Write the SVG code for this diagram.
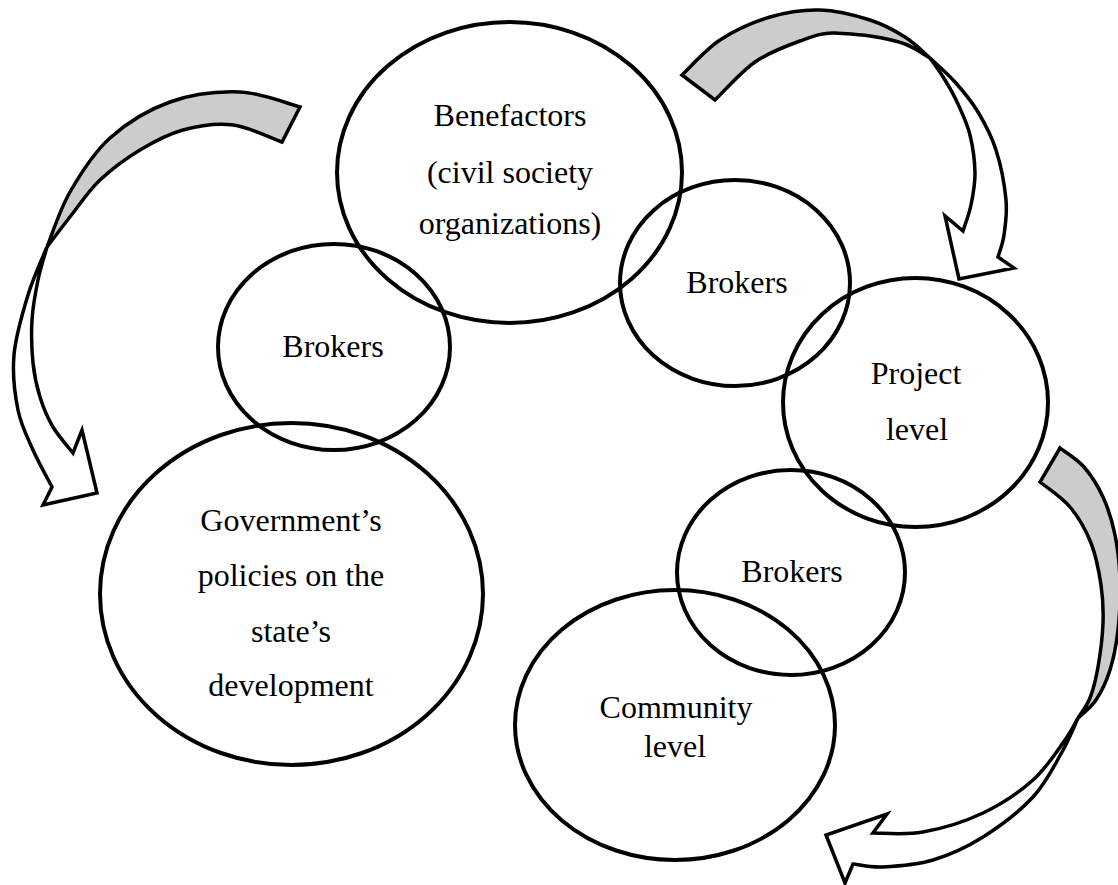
<svg xmlns="http://www.w3.org/2000/svg" width="1118" height="885" viewBox="0 0 1118 885">
  <style>
    .node { fill: none; stroke: #000; stroke-width: 4; }
    .label { font-family: "Liberation Serif", "Times New Roman", serif; font-size: 32px; fill: #000; text-anchor: middle; }
    .back { fill: #cccccc; stroke: #000; stroke-width: 3.5; stroke-linejoin: miter; }
    .front { fill: #ffffff; stroke: #000; stroke-width: 3.5; stroke-linejoin: miter; }
  </style>
  <rect x="0" y="0" width="1118" height="885" fill="#ffffff"/>

  <!-- curved ribbon arrows -->
  <g id="connectors">
    <!-- from benefactors round the left side down to government -->
    <g id="arrow-left">
      <path class="back" d="M300,107 C290,104.5 261.7,92.8 240,92 C218.3,91.2 191.7,94.3 170,102 C148.3,109.7 126.7,123 110,138 C93.3,153 80.5,173.8 70,192 C59.5,210.2 50.8,237.8 47,247 C51.3,241.3 64.2,224.2 73,213 C81.8,201.8 88.8,190.5 100,180 C111.2,169.5 126.2,158.3 140,150 C153.8,141.7 167.5,134.2 183,130 C198.5,125.8 216.5,123 233,125 C249.5,127 273.8,139.2 282,142 Z"/>
      <path class="front" d="M47,247 C43.8,255 33.5,277 28,295 C22.5,313 15.7,335.8 14,355 C12.3,374.2 14.8,394.2 18,410 C21.2,425.8 27.3,437.2 33,450 C38.7,462.8 48.8,480.8 52,487 L43,505 L97,493 L82,430 L73,453 C69.7,448.7 58.5,436.3 53,427 C47.5,417.7 43.3,407.7 40,397 C36.7,386.3 34.3,375.8 33,363 C31.7,350.2 31.2,333.8 32,320 C32.8,306.2 35.5,292.2 38,280 C40.5,267.8 45.5,252.5 47,247 Z"/>
    </g>
    <!-- over the top right, down to the project level -->
    <g id="arrow-top-right">
      <path class="back" d="M682,75 C688.3,69.2 705.3,49.7 720,40 C734.7,30.3 753.3,22 770,17 C786.7,12 803.3,9.5 820,10 C836.7,10.5 855.8,15.5 870,20 C884.2,24.5 895,30.7 905,37 C915,43.3 925.8,54.5 930,58 C925.8,55.7 915,47.7 905,44 C895,40.3 881.7,37.8 870,36 C858.3,34.2 846.7,33.8 835,33 C823.3,32.2 813.3,36.2 800,41 C786.7,45.8 769.2,52.2 755,62 C740.8,71.8 721.7,93.7 715,100 Z"/>
      <path class="front" d="M930,58 C934.2,62 947,73 955,82 C963,91 971.2,100.7 978,112 C984.8,123.3 991.3,135.3 996,150 C1000.7,164.7 1004.7,185.8 1006,200 C1007.3,214.2 1005.3,225.5 1004,235 C1002.7,244.5 999,253.3 998,257 L1014,268 L959,279 L945,216 L963,231 C964.3,226.7 969,214.7 971,205 C973,195.3 975.2,184.7 975,173 C974.8,161.3 972.8,146.5 970,135 C967.2,123.5 962.2,113.2 958,104 C953.8,94.8 949.7,87.7 945,80 C940.3,72.3 932.5,61.7 930,58 Z"/>
    </g>
    <!-- from the project level round the right side down to the community level -->
    <g id="arrow-bottom-right">
      <path class="back" d="M1060,448 C1064,451.2 1076.8,458.8 1084,467 C1091.2,475.2 1097.8,485.7 1103,497 C1108.2,508.3 1112.2,521.2 1115,535 C1117.8,548.8 1119.5,564.2 1120,580 C1120.5,595.8 1119.7,615 1118,630 C1116.3,645 1113.7,658.3 1110,670 C1106.3,681.7 1101.3,692 1096,700 C1090.7,708 1081,715 1078,718 C1080,714.7 1086.7,706.5 1090,698 C1093.3,689.5 1095.8,679.5 1098,667 C1100.2,654.5 1102.5,636.7 1103,623 C1103.5,609.3 1103,598.3 1101,585 C1099,571.7 1096.2,556 1091,543 C1085.8,530 1078.5,517.2 1070,507 C1061.5,496.8 1045,486.2 1040,482 Z"/>
      <path class="front" d="M1078,718 C1075.3,723.7 1069.5,738.8 1062,752 C1054.5,765.2 1046.2,782.8 1033,797 C1019.8,811.2 999.7,826.5 983,837 C966.3,847.5 949.7,855 933,860 C916.3,865 896.3,866.3 883,867 C869.7,867.7 858,864.5 853,864 L845,883 L826,835 L887,814 L873,833 C881.3,832.8 904.7,835.3 923,832 C941.3,828.7 964.7,821.7 983,813 C1001.3,804.3 1019.3,792.2 1033,780 C1046.7,767.8 1057.5,750.3 1065,740 C1072.5,729.7 1075.8,721.7 1078,718 Z"/>
    </g>
  </g>

  <g id="benefactors">
    <ellipse class="node" cx="509.5" cy="172.5" rx="172.5" ry="150.5"/>
    <text class="label" x="510" y="126">Benefactors</text>
    <text class="label" x="510" y="183">(civil society</text>
    <text class="label" x="510" y="234">organizations)</text>
  </g>

  <g id="brokers-left">
    <ellipse class="node" cx="334" cy="347" rx="116" ry="103"/>
    <text class="label" x="333" y="357">Brokers</text>
  </g>

  <g id="government">
    <ellipse class="node" cx="291.5" cy="594" rx="191.5" ry="171"/>
    <text class="label" x="291" y="531">Government’s</text>
    <text class="label" x="291" y="586">policies on the</text>
    <text class="label" x="291" y="642">state’s</text>
    <text class="label" x="291" y="696">development</text>
  </g>

  <g id="brokers-top-right">
    <ellipse class="node" cx="735" cy="283" rx="115" ry="103"/>
    <text class="label" x="737" y="293">Brokers</text>
  </g>

  <g id="project-level">
    <ellipse class="node" cx="915.5" cy="402.5" rx="132.5" ry="124.5"/>
    <text class="label" x="916" y="384">Project</text>
    <text class="label" x="917" y="440">level</text>
  </g>

  <g id="brokers-bottom-right">
    <ellipse class="node" cx="791" cy="572.5" rx="114" ry="102.5"/>
    <text class="label" x="792" y="582">Brokers</text>
  </g>

  <g id="community-level">
    <ellipse class="node" cx="675" cy="725" rx="160" ry="135"/>
    <text class="label" x="676" y="718">Community</text>
    <text class="label" x="675" y="757">level</text>
  </g>
</svg>
